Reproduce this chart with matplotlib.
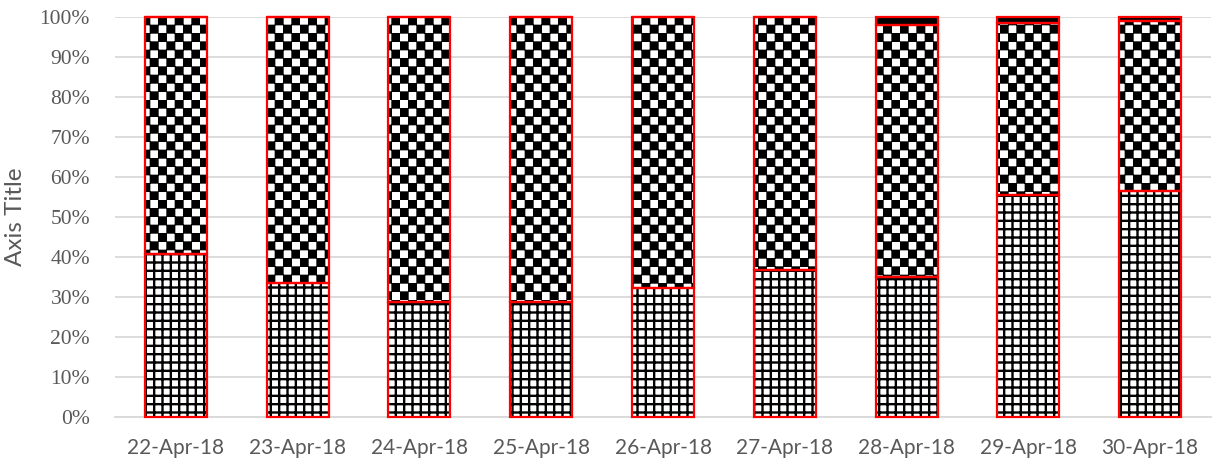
import numpy as np
import matplotlib
matplotlib.use("Agg")
import matplotlib.pyplot as plt
import matplotlib.hatch as mhatch
from matplotlib.path import Path
from matplotlib.ticker import PercentFormatter

dates = ["22-Apr-18", "23-Apr-18", "24-Apr-18", "25-Apr-18", "26-Apr-18",
         "27-Apr-18", "28-Apr-18", "29-Apr-18", "30-Apr-18"]
bottom_share = [0.408, 0.336, 0.287, 0.287, 0.322, 0.368, 0.351, 0.556, 0.564]
top_share = [0.0, 0.0, 0.0, 0.0, 0.0, 0.0, 0.020, 0.015, 0.010]
middle_share = [1 - b - t for b, t in zip(bottom_share, top_share)]


# checkerboard fill used by the middle series (replaces the '.' hatch)
class CheckerHatch(mhatch.HatchPatternBase):
    size = 0.8

    def __init__(self, hatch, density):
        self.n = hatch.count('.') * density
        self.num_vertices = (self.n * self.n // 2) * 5 if self.n else 0

    def set_vertices_and_codes(self, vertices, codes):
        step = 1.0 / self.n
        s = step * self.size
        sq = np.array([[0, 0], [s, 0], [s, s], [0, s], [0, 0]], float)
        parts = []
        for i in range(self.n):
            for j in range(self.n):
                if (i + j) % 2 == 0:
                    parts.append(sq + [i * step + (step - s) / 2, j * step + (step - s) / 2])
        vertices[:] = np.concatenate(parts)
        codes[:] = np.tile([Path.MOVETO, Path.LINETO, Path.LINETO,
                            Path.LINETO, Path.CLOSEPOLY], len(parts))


mhatch._hatch_types[mhatch._hatch_types.index(mhatch.SmallFilledCircles)] = CheckerHatch
plt.rcParams['hatch.linewidth'] = 1.7

fig = plt.figure(figsize=(12.12, 4.62), dpi=100)
ax = fig.add_axes([115 / 1212, 45 / 462, 1096 / 1212, 400 / 462])

x = np.arange(len(dates))
w = 0.51
mid_base = np.array(bottom_share)
top_base = mid_base + np.array(middle_share)

# pattern layers
ax.bar(x, bottom_share, w, color='white', edgecolor='black', linewidth=0, hatch='++', zorder=2)
ax.bar(x, middle_share, w, bottom=mid_base, color='white', edgecolor='black', linewidth=0, hatch='..', zorder=2)
ax.bar(x, top_share, w, bottom=top_base, color='black', edgecolor='black', linewidth=0, zorder=2)

# red outlines
for vals, base in [(bottom_share, 0), (middle_share, mid_base), (top_share, top_base)]:
    ax.bar(x, vals, w, bottom=base, facecolor='none', edgecolor='#ff0000',
           linewidth=1.6, zorder=3, clip_on=False)

ax.set_xlim(-0.5, len(dates) - 0.5)
ax.set_ylim(0, 1)
ax.set_yticks(np.arange(0, 1.01, 0.1))
ax.yaxis.set_major_formatter(PercentFormatter(1.0, decimals=0))
ax.set_xticks(x)
ax.set_xticklabels(dates, fontfamily='Lato', fontsize=15, color='#595959')
for lab in ax.get_yticklabels():
    lab.set_fontfamily('Liberation Serif')
    lab.set_fontsize(15.5)
    lab.set_color('#595959')

ax.grid(axis='y', color='#d9d9d9', linewidth=1.3, zorder=0)
ax.set_axisbelow(True)
for side in ['top', 'right', 'left']:
    ax.spines[side].set_visible(False)
ax.spines['bottom'].set_color('#d9d9d9')
ax.spines['bottom'].set_linewidth(1.3)
ax.tick_params(axis='both', length=0)
ax.tick_params(axis='x', pad=15)
ax.tick_params(axis='y', pad=18)

ax.set_ylabel("Axis Title", fontfamily='Lato', fontsize=17.5, color='#595959', labelpad=10)

fig.savefig("out.png", dpi=100)
